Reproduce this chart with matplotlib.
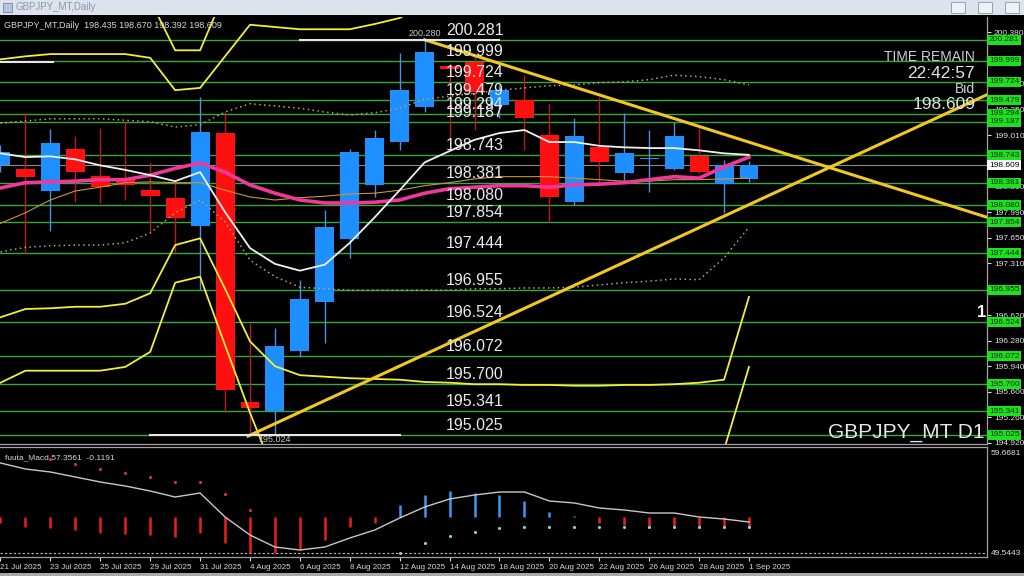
import numpy as np
import matplotlib.pyplot as plt
from matplotlib.patches import Rectangle

plt.rcParams['font.family'] = ['Liberation Sans', 'DejaVu Sans']

#------------------------------------------------------------------------
# Data (GBPJPY daily, 21 Jul - 1 Sep 2025)
#------------------------------------------------------------------------
date_labels = ['21 Jul 2025', '23 Jul 2025', '25 Jul 2025', '29 Jul 2025', '31 Jul 2025',
               '4 Aug 2025', '6 Aug 2025', '8 Aug 2025', '12 Aug 2025', '14 Aug 2025',
               '18 Aug 2025', '20 Aug 2025', '22 Aug 2025', '26 Aug 2025', '28 Aug 2025',
               '1 Sep 2025']

opens  = [198.61, 198.56, 198.27, 198.83, 198.47, 198.43, 198.28, 198.18, 197.80, 199.04,
          195.46, 195.34, 196.14, 196.79, 197.63, 198.35, 198.92, 199.39, 199.93, 199.98,
          199.41, 199.48, 199.01, 198.12, 198.85, 198.51, 198.69, 198.56, 198.73, 198.36, 198.435]
highs  = [198.88, 199.31, 199.09, 199.00, 199.11, 199.20, 198.64, 198.38, 199.52, 199.32,
          196.51, 196.45, 197.09, 198.02, 198.83, 199.08, 200.10, 200.28, 199.97, 200.08,
          199.68, 199.81, 199.44, 199.24, 199.52, 199.31, 199.08, 199.19, 199.11, 198.68, 198.670]
lows   = [198.52, 197.44, 197.74, 198.12, 198.11, 198.15, 197.72, 197.46, 196.95, 195.33,
          195.05, 195.024, 196.06, 196.25, 197.38, 198.19, 198.81, 199.32, 198.95, 199.08,
          199.24, 198.81, 197.86, 198.08, 198.38, 198.39, 198.26, 198.55, 198.51, 197.98, 198.392]
closes = [198.79, 198.46, 198.91, 198.52, 198.32, 198.35, 198.20, 197.91, 199.05, 195.62,
          195.38, 196.21, 196.83, 197.79, 198.79, 198.97, 199.61, 200.12, 199.89, 199.59,
          199.61, 199.24, 198.19, 199.00, 198.65, 198.77, 198.70, 199.00, 198.52, 198.61, 198.609]

ma_white = [198.77, 198.72, 198.73, 198.69, 198.61, 198.55, 198.48, 198.40, 198.52, 197.99,
            197.51, 197.30, 197.21, 197.29, 197.58, 197.92, 198.28, 198.65, 198.80, 198.95,
            199.04, 199.08, 198.92, 198.92, 198.87, 198.85, 198.84, 198.84, 198.81, 198.77, 198.75]
ma_pink  = [198.31, 198.38, 198.39, 198.40, 198.42, 198.42, 198.48, 198.57, 198.64, 198.52,
            198.35, 198.24, 198.15, 198.11, 198.11, 198.12, 198.15, 198.24, 198.30, 198.32,
            198.34, 198.34, 198.32, 198.35, 198.36, 198.38, 198.42, 198.46, 198.44, 198.59, 198.72]
ma_tan   = [197.84, 197.98, 198.15, 198.27, 198.32, 198.38, 198.39, 198.38, 198.38, 198.28,
            198.19, 198.15, 198.18, 198.20, 198.23, 198.24, 198.28, 198.34, 198.38, 198.43,
            198.46, 198.46, 198.46, 198.44, 198.42, 198.40, 198.40, 198.42, 198.42, 198.43, 198.44]
bb_up    = [199.17, 199.20, 199.23, 199.23, 199.23, 199.21, 199.19, 199.12, 199.15, 199.32,
            199.43, 199.40, 199.37, 199.32, 199.28, 199.31, 199.37, 199.49, 199.53, 199.57,
            199.61, 199.64, 199.67, 199.68, 199.71, 199.72, 199.75, 199.81, 199.79, 199.75, 199.68]
bb_dn    = [197.46, 197.52, 197.54, 197.55, 197.55, 197.58, 197.71, 197.98, 198.15, 197.86,
            197.35, 197.13, 196.99, 196.97, 196.95, 196.95, 196.95, 196.95, 196.95, 196.97,
            196.97, 196.98, 196.98, 196.99, 197.02, 197.05, 197.07, 197.10, 197.09, 197.38, 197.79]

# yellow envelope bands (values outside the window just run off the chart)
band_up_out = [201.00, 201.00, 201.00, 201.00, 201.00, 200.85, 200.81, 200.14, 200.14, 200.92,
               201.30, 201.30, 201.30, 201.30, 201.30, 201.30, 201.30, 201.30, 201.30, 201.30,
               201.30, 201.30, 201.30, 201.30, 201.30, 201.30, 201.30, 201.30, 201.30, 201.30, 201.30]
band_up_in  = [200.02, 200.06, 200.09, 200.09, 200.09, 200.09, 200.04, 199.61, 199.64, 200.06,
               200.48, 200.45, 200.42, 200.42, 200.42, 200.49, 200.57, 200.75, 200.90, 201.00,
               201.00, 201.00, 201.00, 201.00, 201.00, 201.00, 201.00, 201.00, 201.00, 201.00, 201.00]
band_lo_in  = [196.59, 196.70, 196.71, 196.73, 196.73, 196.77, 196.91, 197.55, 197.64, 196.97,
               196.27, 195.94, 195.82, 195.80, 195.78, 195.77, 195.76, 195.73, 195.72, 195.70,
               195.70, 195.69, 195.69, 195.68, 195.68, 195.69, 195.69, 195.70, 195.72, 195.76, 196.86]
band_lo_out = [195.72, 195.88, 195.88, 195.88, 195.88, 195.93, 196.13, 197.05, 197.13, 196.22,
               195.32, 194.49, 194.75, 194.78, 194.80, 194.80, 194.80, 194.80, 194.80, 194.80,
               194.80, 194.80, 194.80, 194.80, 194.80, 194.80, 194.80, 194.80, 194.80, 194.83, 195.93]

# trendlines (index, price)
trend_down = [(17, 200.28), (39.54, 197.92)]
trend_up = [(9.92, 195.01), (39.54, 199.55)]

levels = [200.281, 199.999, 199.724, 199.479, 199.294, 199.187, 198.743, 198.381, 198.080,
          197.854, 197.444, 196.955, 196.524, 196.072, 195.700, 195.341, 195.025]
# scale labels that are not hidden under the level boxes
price_ticks = [200.380, 199.700, 199.350, 199.010, 198.330, 197.990, 197.650,
               197.310, 196.620, 196.280, 195.940, 195.600, 195.260, 194.920]
bid = 198.609

# sub window indicator
macd_line = [5.4, 4.8, 4.5, 4.0, 3.5, 3.1, 2.6, 2.0, 2.4, 0.0, -1.8, -3.0, -3.3, -3.0, -2.1, -1.3,
             -0.1, 1.0, 1.8, 2.2, 2.5, 2.5, 1.6, 1.4, 0.9, 0.7, 0.4, 0.4, 0.0, -0.2, -0.5]
macd_hist = [-0.6, -1.0, -1.1, -1.3, -1.6, -1.7, -1.8, -2.0, -1.6, -2.6, -3.6, -3.6, -3.3, -2.3, -1.0, -0.6,
             1.2, 2.2, 2.6, 2.4, 2.2, 1.6, 0.5, 0.1, -0.6, -0.8, -1.0, -1.0, -1.0, -1.0, -1.0]
dots_red = [np.nan, np.nan, 5.8, 5.3, 4.8, 4.4, 4.0, 3.5, 3.5, 2.3, 0.7] + [np.nan] * 20
dots_teal = [np.nan] * 16 + [-3.6, -2.6, -1.9, -1.5, -1.1, -1.0, -1.0, -1.0, -1.0, -1.0,
                             -1.0, -1.0, -1.0, -1.0, -1.0]

#------------------------------------------------------------------------
W, H = 1024, 576
fig = plt.figure(figsize=(10.24, 5.76), dpi=100, facecolor='black')
ax = fig.add_axes([0, 1 - 444 / H, 987 / W, 427 / H], facecolor='black')
ax2 = fig.add_axes([0, 1 - 557 / H, 987 / W, 110 / H], facecolor='black')

x = np.arange(len(opens))
o = np.array(opens); c = np.array(closes)
bull = c >= o

# level lines
for lv in levels:
    ax.axhline(lv, color='#36A83A', lw=1, zorder=1)
ax.axhline(bid, color='#8A8A8A', lw=0.8, zorder=1)

# candles
ax.vlines(x, lows, highs, colors=np.where(bull, '#4A8FE0', '#C01818'), lw=1, zorder=2)
body_h = np.maximum(np.abs(c - o), 0.012)
ax.bar(x, body_h, bottom=np.minimum(o, c), width=0.76,
       color=np.where(bull, '#1E8FFF', '#FF1010'), linewidth=0, zorder=3)

# indicators
ax.plot(x, bb_up, color='#B8A270', lw=1.1, ls=(0, (1, 2.2)), zorder=4)
ax.plot(x, bb_dn, color='#B8A270', lw=1.1, ls=(0, (1, 2.2)), zorder=4)
ax.plot(x, ma_tan, color='#C8963C', lw=0.8, zorder=4)
ax.plot(x, ma_pink, color='#F0389A', lw=2.6, zorder=5)
ax.plot(x, ma_white, color='#F2F2F2', lw=1.3, zorder=5)
for band in (band_up_out, band_up_in, band_lo_in, band_lo_out):
    ax.plot(x, band, color='#F2EE3C', lw=1.3, zorder=5)

for (x0, y0), (x1, y1) in (trend_down, trend_up):
    ax.plot([x0, x1], [y0, y1], color='#F2C81E', lw=2.2, zorder=6)

# high / low markers
ax.plot([12.0, 20.0], [200.28, 200.28], color='#E6E6E6', lw=1.5, zorder=6)
ax.plot([6.0, 16.0], [195.024, 195.024], color='#E6E6E6', lw=1.5, zorder=6)
ax.plot([-0.1, 2.1], [199.985, 199.985], color='#E6E6E6', lw=1.5, zorder=6)
ax.text(17, 200.37, '200.280', color='#C8C8C8', fontsize=6.5, ha='center', va='center', zorder=7)
ax.text(11, 194.965, '195.024', color='#C8C8C8', fontsize=6.5, ha='center', va='center', zorder=7)

# level labels in the chart
ytr = ax.get_yaxis_transform()
for lv in levels:
    ax.text(446 / 987, lv + 0.025, f'{lv:.3f}', transform=ytr, color='#EAEAEA',
            fontsize=11.5, ha='left', va='bottom', zorder=8)

ax.set_xlim(-0.02, 39.54)
ax.set_ylim(194.905, 200.583)

# right price scale
ax.yaxis.tick_right()
ax.set_yticks(price_ticks)
ax.set_yticklabels([f'{t:.3f}' for t in price_ticks])
ax.tick_params(axis='y', colors='#E0E0E0', labelsize=6, length=3, pad=2, width=0.8)
ax.set_xticks([])
for lv in levels:
    ax.text(1.002, lv, f'{lv:.3f}', transform=ytr, fontsize=6, color='#0A300A',
            ha='left', va='center', zorder=10, clip_on=False,
            bbox=dict(boxstyle='square,pad=0.18', fc='#1EE01E', ec='none'))
ax.text(1.002, bid, f'{bid:.3f}', transform=ytr, fontsize=6, color='black',
        ha='left', va='center', zorder=11, clip_on=False,
        bbox=dict(boxstyle='square,pad=0.18', fc='white', ec='none'))

for side in ['top', 'left']:
    ax.spines[side].set_visible(False)
for side in ['right', 'bottom']:
    ax.spines[side].set_color('#A0A0A0')
    ax.spines[side].set_linewidth(0.9)

# overlay texts
ax.text(0.004, 0.981, 'GBPJPY_MT,Daily  198.435 198.670 198.392 198.609', transform=ax.transAxes,
        color='#D8D8D8', fontsize=6.5, ha='left', va='center', zorder=9)
ax.text(0.988, 0.906, 'TIME REMAIN', transform=ax.transAxes, color='#CFCFCF',
        fontsize=10, ha='right', va='center', zorder=9)
ax.text(0.988, 0.867, '22:42:57', transform=ax.transAxes, color='#E2E2E2',
        fontsize=12.5, ha='right', va='center', zorder=9)
ax.text(0.988, 0.831, 'Bid', transform=ax.transAxes, color='#CFCFCF',
        fontsize=10, ha='right', va='center', zorder=9)
ax.text(0.988, 0.796, '198.609', transform=ax.transAxes, color='#E2E2E2',
        fontsize=12.5, ha='right', va='center', zorder=9)
ax.text(0.997, 0.026, 'GBPJPY_MT D1', transform=ax.transAxes, color='#E6E6E6',
        fontsize=15, ha='right', va='center', zorder=9)
ax.text(39.14, 196.65, '196', color='white', fontsize=12, fontweight='bold',
        ha='left', va='center', clip_on=True, zorder=9)

#------------------------------------------------------------------------
# sub window
hist = np.array(macd_hist)
ax2.vlines(x, 0, hist, colors=np.where(hist >= 0, '#3A9AF0', '#F01E1E'), lw=1.8, zorder=2)
ax2.plot(x, macd_line, color='#C8C8C8', lw=1.0, zorder=3)
ax2.scatter(x, dots_red, s=5, color='#E03030', zorder=4, linewidths=0)
ax2.scatter(x, dots_teal, s=5, color='#80D8C8', zorder=4, linewidths=0)
ax2.axhline(-3.6, color='#C0C0C0', lw=0.8, ls=(0, (2, 2)), zorder=1)
ax2.set_xlim(-0.02, 39.54)
ax2.set_ylim(-4.0, 7.0)
ax2.set_yticks([])
ax2.set_xticks(x[::2])
ax2.set_xticklabels(date_labels)
ax2.tick_params(axis='x', colors='#D8D8D8', labelsize=5.8, length=3, pad=2, width=0.8)
for lbl in ax2.get_xticklabels():
    lbl.set_ha('left')
for side in ['top', 'bottom', 'right']:
    ax2.spines[side].set_color('#A0A0A0')
    ax2.spines[side].set_linewidth(0.9)
ax2.spines['left'].set_visible(False)
ax2.text(0.005, 0.9, 'fuuta_Macd 57.3561  -0.1191', transform=ax2.transAxes,
         color='#D8D8D8', fontsize=6, ha='left', va='center')
ax2.text(1.004, 0.945, '59.6681', transform=ax2.transAxes, color='#E0E0E0',
         fontsize=6, ha='left', va='center', clip_on=False)
ax2.text(1.004, 0.036, '49.5443', transform=ax2.transAxes, color='#E0E0E0',
         fontsize=6, ha='left', va='center', clip_on=False)

#------------------------------------------------------------------------
# window chrome
fig.add_artist(Rectangle((0, 1 - 15 / H), 1, 15 / H, transform=fig.transFigure,
                         fc='#DCE3EC', ec='none'))
fig.add_artist(Rectangle((3 / W, 1 - 12 / H), 9 / W, 9 / H, transform=fig.transFigure,
                         fc='#B8C8DC', ec='#7088A8', lw=0.6))
fig.text(16 / W, 1 - 7.5 / H, 'GBPJPY_MT,Daily', color='#8A98AA', fontsize=7, va='center')
for bx in (951, 978, 1005):
    fig.add_artist(Rectangle((bx / W, 1 - 13 / H), 14 / W, 11 / H, transform=fig.transFigure,
                             fc='#EEF1F5', ec='#98A0AE', lw=0.7))
fig.add_artist(Rectangle((0, 0), 1, 3 / H, transform=fig.transFigure, fc='#A8A8A8', ec='none'))

fig.savefig('out.png', dpi=100, facecolor='black')
